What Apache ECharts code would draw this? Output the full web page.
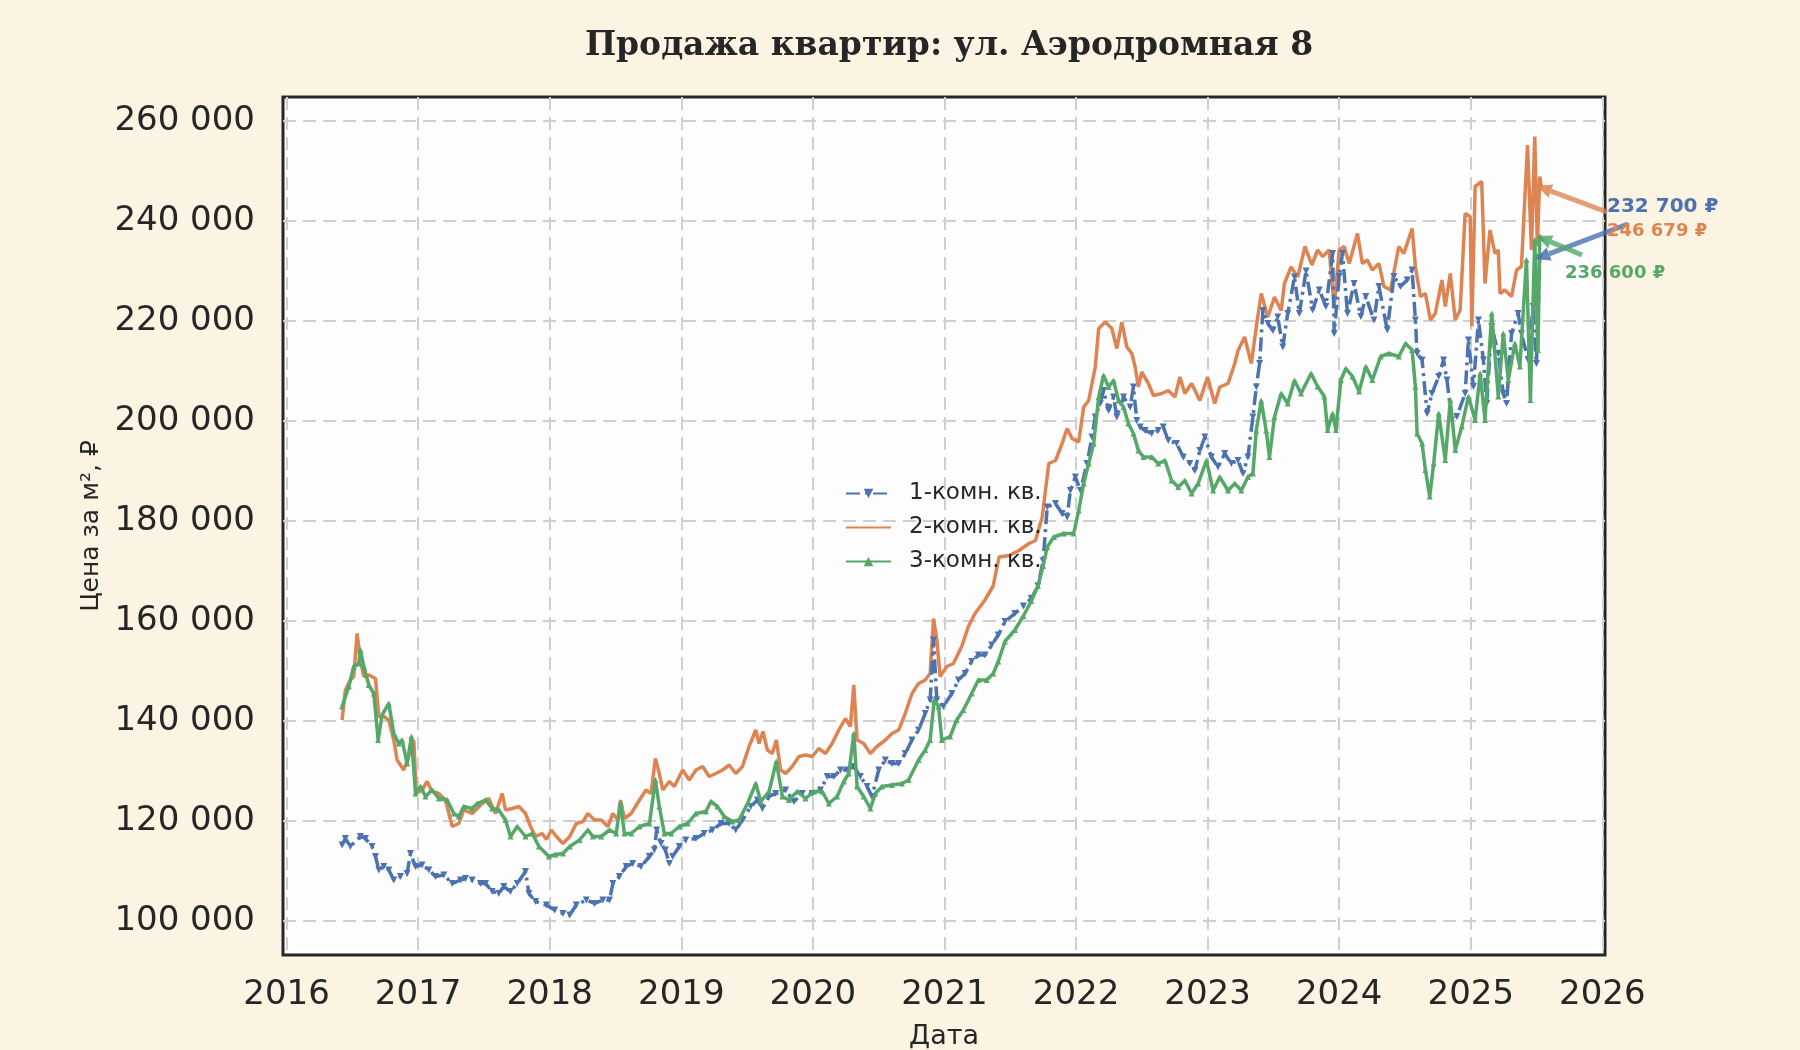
<!DOCTYPE html>
<html lang="ru">
<head>
<meta charset="utf-8">
<title>Продажа квартир: ул. Аэродромная 8</title>
<script src="https://cdn.jsdelivr.net/npm/echarts@6/dist/echarts.min.js"></script>
<style>
    html, body { margin: 0; padding: 0; background: #FBF4E2; }
    #chart { width: 1800px; height: 1050px; }
</style>
</head>
<body>
<div id="chart"></div>
<script>
// подписи и цвета
var titleText = 'Продажа квартир: ул. Аэродромная 8';
var seriesNames = ['1-комн. кв.', '2-комн. кв.', '3-комн. кв.'];
var colors = ['#4C72B0', '#DD8452', '#55A868'];

// [год, цена за м²]
var room1 = [
    [2016.422, 115200], [2016.447, 116500], [2016.485, 114900], [2016.561, 116900], [2016.599, 116500],
    [2016.650, 114900], [2016.676, 112900], [2016.701, 110200], [2016.739, 110900], [2016.777, 110200],
    [2016.815, 108200], [2016.866, 108900], [2016.916, 109500], [2016.942, 113500], [2016.980, 110900],
    [2017.030, 111200], [2017.081, 110200], [2017.132, 108900], [2017.195, 109200], [2017.259, 107500],
    [2017.322, 108200], [2017.360, 108500], [2017.411, 108200], [2017.474, 107500], [2017.512, 107500],
    [2017.563, 105900], [2017.613, 105500], [2017.651, 106900], [2017.702, 105900], [2017.753, 107500],
    [2017.816, 109900], [2017.842, 105500], [2017.892, 103900], [2017.975, 103200], [2018.038, 102200],
    [2018.101, 101500], [2018.152, 101200], [2018.202, 103200], [2018.278, 104200], [2018.341, 103500],
    [2018.404, 104200], [2018.455, 104200], [2018.480, 107500], [2018.530, 108900], [2018.581, 110900],
    [2018.631, 111500], [2018.694, 110900], [2018.758, 112900], [2018.795, 114200], [2018.813, 118200],
    [2018.846, 115500], [2018.879, 114200], [2018.909, 111500], [2018.934, 112900], [2018.985, 114900],
    [2019.035, 116200], [2019.111, 116500], [2019.174, 117500], [2019.237, 118200], [2019.301, 119500],
    [2019.364, 119500], [2019.414, 118200], [2019.465, 120200], [2019.528, 122900], [2019.578, 124200],
    [2019.616, 122500], [2019.667, 124900], [2019.717, 125500], [2019.793, 126200], [2019.856, 123900],
    [2019.919, 125500], [2019.995, 125500], [2020.058, 126200], [2020.109, 128900], [2020.159, 128900],
    [2020.210, 130200], [2020.260, 130200], [2020.311, 130900], [2020.361, 128900], [2020.412, 126900],
    [2020.449, 124900], [2020.500, 130200], [2020.551, 132200], [2020.601, 131500], [2020.652, 131500],
    [2020.702, 133500], [2020.753, 136200], [2020.803, 138200], [2020.854, 141500], [2020.891, 144200],
    [2020.917, 156200], [2020.942, 144200], [2020.992, 142900], [2021.056, 145500], [2021.106, 148200],
    [2021.157, 149500], [2021.207, 151900], [2021.258, 153200], [2021.308, 153200], [2021.359, 155200],
    [2021.409, 157200], [2021.460, 159900], [2021.535, 161500], [2021.600, 163000], [2021.660, 164500],
    [2021.710, 167000], [2021.750, 172000], [2021.781, 182800], [2021.844, 183500], [2021.894, 181500],
    [2021.932, 180800], [2021.957, 186100], [2021.995, 188800], [2022.033, 186100], [2022.083, 191500],
    [2022.121, 196800], [2022.146, 200800], [2022.184, 203500], [2022.209, 206100], [2022.247, 202100],
    [2022.285, 204800], [2022.310, 200800], [2022.361, 204800], [2022.411, 202800], [2022.436, 206800],
    [2022.462, 200100], [2022.487, 198800], [2022.525, 198100], [2022.575, 197500], [2022.625, 198100],
    [2022.663, 198800], [2022.701, 196100], [2022.764, 195500], [2022.815, 192800], [2022.865, 191500],
    [2022.903, 190100], [2022.941, 194100], [2022.979, 196800], [2023.029, 192800], [2023.079, 190800],
    [2023.130, 193500], [2023.180, 191500], [2023.231, 192100], [2023.269, 189500], [2023.306, 192800],
    [2023.344, 200800], [2023.370, 206800], [2023.395, 211500], [2023.420, 222100], [2023.458, 219500],
    [2023.496, 218100], [2023.533, 220800], [2023.571, 214800], [2023.609, 221500], [2023.660, 228800],
    [2023.697, 221500], [2023.748, 230000], [2023.798, 222200], [2023.849, 226200], [2023.899, 222900],
    [2023.950, 233500], [2023.962, 217500], [2024.000, 228900], [2024.025, 233500], [2024.063, 221500],
    [2024.113, 227500], [2024.164, 220900], [2024.202, 224900], [2024.264, 220200], [2024.302, 226900],
    [2024.365, 218200], [2024.416, 228900], [2024.466, 226900], [2024.516, 228200], [2024.554, 230200],
    [2024.579, 220200], [2024.592, 213500], [2024.630, 212200], [2024.668, 201500], [2024.705, 205500],
    [2024.756, 208900], [2024.793, 212200], [2024.819, 208200], [2024.856, 200200], [2024.894, 200900],
    [2024.957, 205500], [2024.982, 216200], [2025.020, 206900], [2025.058, 220200], [2025.096, 212200],
    [2025.121, 203500], [2025.159, 218900], [2025.209, 213500], [2025.247, 205500], [2025.272, 203500],
    [2025.310, 217500], [2025.360, 221500], [2025.385, 217500], [2025.436, 212200], [2025.474, 222900],
    [2025.499, 211500], [2025.524, 232700]
];

var room2 = [
    [2016.422, 140200], [2016.447, 146200], [2016.485, 148200], [2016.511, 148900], [2016.536, 157500],
    [2016.561, 152200], [2016.587, 148900], [2016.625, 149200], [2016.676, 148500], [2016.701, 140900],
    [2016.739, 140900], [2016.777, 140200], [2016.815, 136200], [2016.840, 132200], [2016.891, 130200],
    [2016.929, 132900], [2016.967, 136200], [2016.985, 125500], [2017.030, 126200], [2017.068, 127900],
    [2017.106, 125900], [2017.157, 125500], [2017.208, 124200], [2017.259, 118900], [2017.309, 119500],
    [2017.347, 122200], [2017.411, 121500], [2017.487, 123500], [2017.537, 124500], [2017.588, 121500],
    [2017.639, 125500], [2017.664, 122200], [2017.715, 122500], [2017.766, 122900], [2017.816, 121500],
    [2017.854, 118900], [2017.892, 116900], [2017.943, 117500], [2017.975, 116300], [2018.013, 118200],
    [2018.051, 116900], [2018.101, 115500], [2018.152, 116900], [2018.202, 119500], [2018.253, 119900],
    [2018.290, 121500], [2018.341, 120200], [2018.391, 120200], [2018.442, 118900], [2018.480, 121500],
    [2018.518, 120200], [2018.538, 124200], [2018.568, 120500], [2018.619, 121500], [2018.682, 124200],
    [2018.732, 126200], [2018.770, 125500], [2018.803, 132500], [2018.833, 129500], [2018.859, 126200],
    [2018.909, 127900], [2018.947, 126900], [2019.010, 130200], [2019.061, 128200], [2019.111, 130200],
    [2019.162, 130900], [2019.212, 128900], [2019.263, 129500], [2019.313, 130200], [2019.364, 131200],
    [2019.414, 129500], [2019.465, 130900], [2019.515, 134900], [2019.566, 138200], [2019.591, 135500],
    [2019.621, 137900], [2019.654, 134200], [2019.692, 133500], [2019.722, 136200], [2019.755, 130200],
    [2019.793, 129500], [2019.843, 130900], [2019.894, 132900], [2019.944, 133200], [2019.995, 132900],
    [2020.045, 134500], [2020.096, 133500], [2020.146, 135500], [2020.197, 138200], [2020.247, 140500],
    [2020.285, 138900], [2020.311, 147200], [2020.336, 136200], [2020.386, 135500], [2020.437, 133500],
    [2020.487, 134900], [2020.551, 136200], [2020.601, 137500], [2020.652, 138200], [2020.702, 141500],
    [2020.753, 145500], [2020.803, 147500], [2020.854, 148200], [2020.891, 149500], [2020.917, 160500],
    [2020.942, 156200], [2020.967, 148900], [2021.018, 150900], [2021.068, 151500], [2021.131, 154900],
    [2021.182, 158900], [2021.232, 161500], [2021.308, 164200], [2021.370, 167000], [2021.415, 172800],
    [2021.491, 173100], [2021.566, 174100], [2021.642, 175500], [2021.692, 176100], [2021.743, 180800],
    [2021.793, 191500], [2021.844, 192100], [2021.894, 195500], [2021.932, 198500], [2021.970, 196500],
    [2022.020, 195800], [2022.058, 202800], [2022.096, 204100], [2022.146, 210800], [2022.172, 218500],
    [2022.222, 219800], [2022.272, 218500], [2022.310, 214500], [2022.348, 219800], [2022.386, 214800],
    [2022.424, 213500], [2022.449, 210800], [2022.474, 206800], [2022.499, 209800], [2022.550, 207500],
    [2022.588, 205100], [2022.651, 205500], [2022.701, 206100], [2022.752, 204800], [2022.789, 208800],
    [2022.827, 205500], [2022.878, 207500], [2022.941, 204100], [2022.999, 208800], [2023.054, 203500],
    [2023.092, 206800], [2023.155, 207500], [2023.206, 211500], [2023.231, 214100], [2023.281, 216800],
    [2023.332, 211500], [2023.370, 218800], [2023.407, 225500], [2023.458, 220800], [2023.508, 224800],
    [2023.559, 222100], [2023.584, 227500], [2023.634, 230800], [2023.685, 228800], [2023.740, 234900],
    [2023.792, 231200], [2023.836, 234200], [2023.874, 232900], [2023.924, 234200], [2023.962, 222900],
    [2024.000, 234200], [2024.038, 234900], [2024.076, 231500], [2024.139, 237500], [2024.176, 231500],
    [2024.214, 232200], [2024.252, 230200], [2024.302, 231500], [2024.340, 226900], [2024.390, 226200],
    [2024.453, 234900], [2024.491, 233500], [2024.554, 238500], [2024.579, 230900], [2024.617, 224900],
    [2024.655, 225500], [2024.693, 220200], [2024.730, 221500], [2024.781, 228200], [2024.806, 222900],
    [2024.844, 229500], [2024.882, 220200], [2024.919, 222200], [2024.957, 241500], [2024.995, 240900],
    [2025.008, 218900], [2025.033, 246900], [2025.083, 247900], [2025.108, 227500], [2025.146, 238200],
    [2025.184, 233500], [2025.209, 234200], [2025.222, 225500], [2025.259, 226200], [2025.310, 224900],
    [2025.348, 230200], [2025.385, 230900], [2025.431, 255200], [2025.461, 234200], [2025.486, 256900],
    [2025.506, 234900], [2025.524, 248900], [2025.537, 246679]
];

var room3 = [
    [2016.422, 142900], [2016.473, 146900], [2016.511, 150900], [2016.549, 151500], [2016.561, 154200],
    [2016.587, 150900], [2016.625, 147200], [2016.663, 145500], [2016.696, 136200], [2016.726, 141200],
    [2016.777, 143500], [2016.815, 137500], [2016.853, 135500], [2016.878, 136200], [2016.916, 131500],
    [2016.949, 136900], [2016.980, 125500], [2017.018, 126900], [2017.056, 124900], [2017.106, 126200],
    [2017.157, 124500], [2017.221, 124200], [2017.271, 121500], [2017.309, 120900], [2017.347, 122900],
    [2017.411, 122500], [2017.449, 123500], [2017.512, 124200], [2017.563, 122500], [2017.613, 122200],
    [2017.664, 120200], [2017.702, 116900], [2017.753, 118900], [2017.816, 116900], [2017.867, 117500],
    [2017.918, 114900], [2017.994, 112900], [2018.044, 113300], [2018.101, 113500], [2018.152, 114900],
    [2018.227, 116200], [2018.290, 118200], [2018.328, 116900], [2018.391, 116900], [2018.455, 118200],
    [2018.505, 117500], [2018.538, 123500], [2018.568, 117500], [2018.619, 117500], [2018.682, 118900],
    [2018.758, 119500], [2018.803, 128200], [2018.833, 122900], [2018.871, 117500], [2018.922, 117500],
    [2018.985, 118900], [2019.048, 119500], [2019.111, 121500], [2019.187, 121900], [2019.225, 123900],
    [2019.275, 122900], [2019.326, 120900], [2019.389, 119900], [2019.439, 120200], [2019.503, 123500],
    [2019.566, 127500], [2019.604, 123900], [2019.667, 125900], [2019.722, 131900], [2019.768, 124900],
    [2019.818, 124200], [2019.881, 125900], [2019.944, 124500], [2020.008, 125900], [2020.071, 125900],
    [2020.121, 123500], [2020.184, 124900], [2020.235, 127900], [2020.273, 129500], [2020.311, 137500],
    [2020.336, 126900], [2020.386, 124900], [2020.437, 122500], [2020.475, 125500], [2020.525, 126900],
    [2020.601, 127200], [2020.677, 127500], [2020.727, 128200], [2020.803, 132200], [2020.854, 134200],
    [2020.891, 136200], [2020.922, 144200], [2020.955, 142900], [2020.980, 136200], [2021.043, 136900],
    [2021.093, 140200], [2021.144, 142200], [2021.207, 145500], [2021.258, 148200], [2021.321, 148200],
    [2021.371, 149500], [2021.409, 151900], [2021.460, 155900], [2021.535, 158200], [2021.600, 161000],
    [2021.660, 164000], [2021.710, 167000], [2021.750, 171000], [2021.781, 174800], [2021.831, 176800],
    [2021.907, 177500], [2021.982, 177500], [2022.020, 182100], [2022.058, 187500], [2022.096, 191500],
    [2022.134, 195500], [2022.172, 204800], [2022.209, 209100], [2022.247, 206800], [2022.285, 208100],
    [2022.323, 204100], [2022.361, 202800], [2022.398, 199500], [2022.436, 197500], [2022.474, 194100],
    [2022.512, 192800], [2022.575, 192800], [2022.625, 191500], [2022.676, 192100], [2022.726, 188100],
    [2022.777, 186800], [2022.827, 188100], [2022.878, 185500], [2022.928, 187500], [2022.991, 192100],
    [2023.042, 186100], [2023.092, 188800], [2023.155, 186100], [2023.206, 187500], [2023.256, 186100],
    [2023.306, 188800], [2023.344, 189500], [2023.370, 198100], [2023.407, 204100], [2023.445, 198100],
    [2023.470, 192800], [2023.508, 200800], [2023.559, 205500], [2023.609, 203500], [2023.660, 208100],
    [2023.710, 205500], [2023.786, 209500], [2023.836, 206900], [2023.887, 204900], [2023.912, 198200],
    [2023.950, 201500], [2023.975, 198200], [2024.013, 208200], [2024.050, 210500], [2024.101, 208900],
    [2024.151, 205900], [2024.202, 210900], [2024.252, 208200], [2024.315, 212900], [2024.378, 213500],
    [2024.453, 212900], [2024.504, 215500], [2024.554, 214200], [2024.579, 206900], [2024.592, 197500],
    [2024.630, 195500], [2024.655, 190200], [2024.688, 184900], [2024.718, 191500], [2024.756, 201500],
    [2024.806, 192200], [2024.844, 204200], [2024.882, 194200], [2024.932, 198900], [2024.982, 204900],
    [2025.033, 200200], [2025.071, 209500], [2025.108, 200200], [2025.159, 221500], [2025.209, 204900],
    [2025.247, 217500], [2025.285, 208200], [2025.335, 215500], [2025.373, 210900], [2025.423, 232200],
    [2025.453, 204200], [2025.486, 236200], [2025.511, 214200], [2025.524, 236900], [2025.537, 236600]
];

var allRooms = [room1, room2, room3];

// подписи последних значений: положение текста и начало стрелки (px)
var notePos = [[1607, 207], [1607, 231], [1565, 273]];
var noteArrowFrom = [[1628, 224], [1607, 212], [1582, 255]];
var noteFont = [20, 18, 18];

function fmtThousands(v) {
    return String(Math.round(v)).replace(/\B(?=(\d{3})+(?!\d))/g, ' ');
}

var chart = echarts.init(document.getElementById('chart'));

var gridLine = { show: true, showMinLine: false, showMaxLine: false, lineStyle: { color: '#CFCFCF', width: 2, type: [13, 7] } };

var option = {
    animation: false,
    backgroundColor: '#FBF4E2',
    title: {
        text: titleText,
        left: 944,
        top: 25,
        textAlign: 'center',
        textStyle: {
            fontFamily: 'DejaVu Serif',
            fontWeight: 'bold',
            fontSize: 33,
            color: '#262626'
        }
    },
    legend: {
        orient: 'vertical',
        left: 840,
        top: 477,
        itemWidth: 45,
        itemHeight: 12,
        itemGap: 11,
        data: [
            { name: seriesNames[0] },
            { name: seriesNames[1], itemStyle: { opacity: 0 } }, // у 2-комн. нет маркеров
            { name: seriesNames[2] }
        ],
        textStyle: {
            fontFamily: 'DejaVu Sans',
            fontSize: 23,
            color: '#262626',
            padding: [0, 0, 0, 13]
        }
    },
    grid: {
        show: true,
        left: 283,
        top: 97,
        width: 1322,
        height: 858,
        outerBoundsMode: 'none',
        backgroundColor: '#FDFDFE',
        borderColor: '#262626',
        borderWidth: 3
    },
    xAxis: {
        type: 'value',
        min: 2015.973,
        max: 2026.02,
        splitNumber: 10,
        name: 'Дата',
        nameLocation: 'middle',
        nameGap: 68,
        nameTextStyle: { fontFamily: 'DejaVu Sans', fontSize: 27, color: '#262626' },
        axisLine: { show: false },
        axisTick: { show: false },
        axisLabel: {
            showMinLabel: false,
            showMaxLabel: false,
            margin: 23,
            fontFamily: 'DejaVu Sans',
            fontSize: 34,
            color: '#262626',
            formatter: function (v) { return String(v); }
        },
        splitLine: gridLine
    },
    yAxis: {
        type: 'value',
        min: 93200,
        max: 264800,
        splitNumber: 8,
        name: 'Цена за м², ₽',
        nameLocation: 'middle',
        nameGap: 172,
        nameTextStyle: { fontFamily: 'DejaVu Sans', fontSize: 25, color: '#262626' },
        axisLine: { show: false },
        axisTick: { show: false },
        axisLabel: {
            showMinLabel: false,
            showMaxLabel: false,
            margin: 28,
            fontFamily: 'DejaVu Sans',
            fontSize: 34,
            color: '#262626',
            formatter: fmtThousands
        },
        splitLine: gridLine
    },
    series: [{
        name: seriesNames[0],
        type: 'line',
        data: room1,
        color: colors[0],
        symbol: 'triangle',
        symbolRotate: 180,
        symbolSize: 7,
        lineStyle: { width: 3.5, type: [14, 5, 3, 5] },
        z: 3
    }, {
        name: seriesNames[1],
        type: 'line',
        data: room2,
        color: colors[1],
        symbol: 'none',
        lineStyle: { width: 3.5 },
        z: 2
    }, {
        name: seriesNames[2],
        type: 'line',
        data: room3,
        color: colors[2],
        symbol: 'triangle',
        symbolSize: 6,
        lineStyle: { width: 3.5 },
        z: 4
    }]
};
chart.setOption(option);

// стрелки к последним значениям
function arrowParts(from, to, color) {
    var dx = to[0] - from[0];
    var dy = to[1] - from[1];
    var len = Math.sqrt(dx * dx + dy * dy);
    var ux = dx / len, uy = dy / len;
    var tip = [to[0] + ux * 5, to[1] + uy * 5];
    var headLen = 15, headW = 7;
    var base = [tip[0] - ux * headLen, tip[1] - uy * headLen];
    return [{
        type: 'line',
        z: 100,
        shape: { x1: from[0], y1: from[1], x2: base[0], y2: base[1] },
        style: { stroke: color, lineWidth: 5, opacity: 0.8 }
    }, {
        type: 'polygon',
        z: 100,
        shape: {
            points: [tip,
                [base[0] - uy * headW, base[1] + ux * headW],
                [base[0] + uy * headW, base[1] - ux * headW]]
        },
        style: { fill: color, opacity: 0.85 }
    }];
}

var notes = [];
for (var i = 0; i < allRooms.length; i++) {
    var last = allRooms[i][allRooms[i].length - 1];
    var pEnd = chart.convertToPixel({ gridIndex: 0 }, last);
    notes = notes.concat(arrowParts(noteArrowFrom[i], pEnd, colors[i]));
    notes.push({
        type: 'text',
        z: 101,
        x: notePos[i][0],
        y: notePos[i][1],
        style: {
            text: fmtThousands(last[1]) + ' ₽',
            fill: colors[i],
            font: 'bold ' + noteFont[i] + 'px "DejaVu Sans"',
            verticalAlign: 'middle',
            align: 'left'
        }
    });
}
chart.setOption({ graphic: notes });
</script>
</body>
</html>
